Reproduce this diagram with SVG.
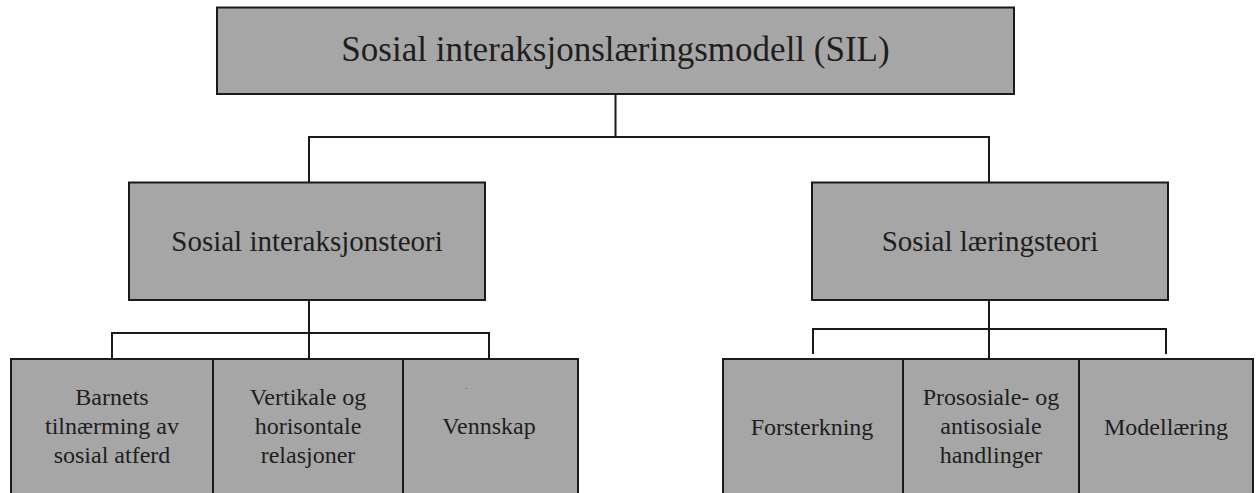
<svg xmlns="http://www.w3.org/2000/svg" width="1256" height="493" viewBox="0 0 1256 493">
<style>
.box{fill:#a6a6a6;stroke:#1a1a1a;stroke-width:2}
.lbl{font-family:"Liberation Serif","Times New Roman",serif;fill:#1e1e1e;text-anchor:middle}
.t1{font-size:35px}
.t2{font-size:29px}
.t3{font-size:24px}
.con{fill:none;stroke:#1a1a1a;stroke-width:2}
</style>
<rect width="1256" height="493" fill="#ffffff"/>
<g id="connectors">
<path class="con" d="M615.5 94 V137 M309 183 V137 H989 V183"/>
<path class="con" d="M309 300 V359 M112 358 V333 H489 V358"/>
<path class="con" d="M989 300 V359 M813 354 V329 H1166 V354"/>
</g>
<g id="node-sil">
<rect class="box" x="217" y="7.5" width="797" height="86.5"/>
<text class="lbl t1" x="615.5" y="61">Sosial interaksjonslæringsmodell (SIL)</text>
</g>
<g id="node-interaksjonsteori">
<rect class="box" x="129" y="182.5" width="356" height="117.5"/>
<text class="lbl t2" x="307" y="251">Sosial interaksjonsteori</text>
</g>
<g id="node-laeringsteori">
<rect class="box" x="812" y="182.5" width="356" height="117.5"/>
<text class="lbl t2" x="990" y="251">Sosial læringsteori</text>
</g>
<g id="node-barnets">
<rect class="box" x="11" y="359" width="202" height="150"/>
<text class="lbl t3" x="112" y="405">Barnets</text>
<text class="lbl t3" x="112" y="434">tilnærming av</text>
<text class="lbl t3" x="112" y="463">sosial atferd</text>
</g>
<g id="node-vertikale">
<rect class="box" x="213" y="359" width="190" height="150"/>
<text class="lbl t3" x="308" y="405">Vertikale og</text>
<text class="lbl t3" x="308" y="434">horisontale</text>
<text class="lbl t3" x="308" y="463">relasjoner</text>
</g>
<g id="node-vennskap">
<rect class="box" x="403" y="359" width="175" height="150"/>
<text class="lbl" x="466" y="389" font-size="8">.</text>
<text class="lbl t3" x="489" y="434">Vennskap</text>
</g>
<g id="node-forsterkning">
<rect class="box" x="723" y="359" width="180" height="150"/>
<text class="lbl t3" x="812" y="435">Forsterkning</text>
</g>
<g id="node-prososiale">
<rect class="box" x="903" y="359" width="176" height="150"/>
<text class="lbl t3" x="991" y="405">Prososiale- og</text>
<text class="lbl t3" x="991" y="434">antisosiale</text>
<text class="lbl t3" x="991" y="463">handlinger</text>
</g>
<g id="node-modellaering">
<rect class="box" x="1079" y="359" width="174" height="150"/>
<text class="lbl t3" x="1166" y="435">Modellæring</text>
</g>
</svg>
